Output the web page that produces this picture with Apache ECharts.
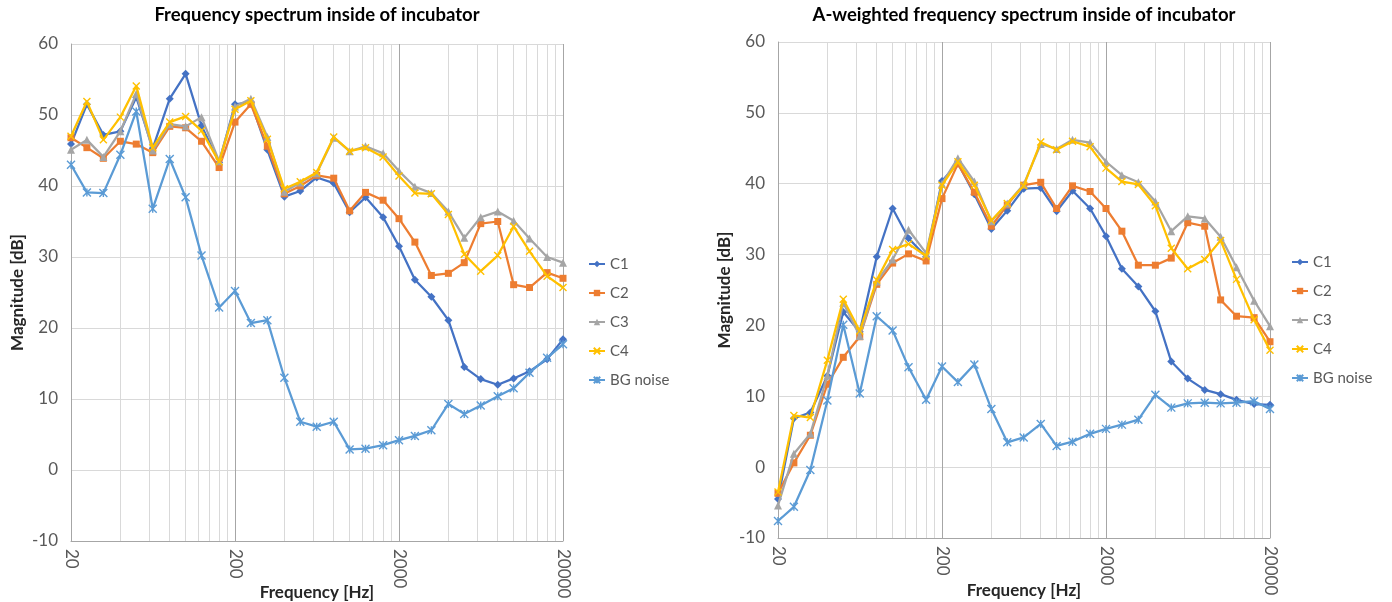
<!DOCTYPE html>
<html>
<head>
<meta charset="utf-8">
<script src="https://cdn.jsdelivr.net/npm/echarts@6/dist/echarts.min.js"></script>
<style>
  html, body { margin: 0; padding: 0; background: #ffffff; }
  #chart { width: 1392px; height: 602px; }
</style>
</head>
<body>
<div id="chart"></div>
<script>
// One-third-octave band centre frequencies [Hz]
const bandHz = [20, 25, 31.5, 40, 50, 63, 80, 100, 125, 160, 200, 250, 315, 400, 500, 630,
  800, 1000, 1250, 1600, 2000, 2500, 3150, 4000, 5000, 6300, 8000, 10000, 12500, 16000, 20000];

// Unweighted spectrum [dB]
const flatC1 = [45.9, 51.5, 47.2, 47.7, 52.5, 45.3, 52.3, 55.8, 48.5, 43.3, 51.5, 51.8, 45.1, 38.5, 39.3, 41.2,
  40.4, 36.3, 38.4, 35.6, 31.5, 26.8, 24.4, 21.1, 14.5, 12.8, 12.0, 12.9, 13.9, 15.6, 18.4];
const flatC2 = [46.8, 45.4, 43.9, 46.3, 45.9, 44.7, 48.4, 48.2, 46.3, 42.6, 49.0, 51.5, 45.6, 38.9, 40.0, 41.5,
  41.1, 36.5, 39.1, 38.0, 35.4, 32.1, 27.4, 27.7, 29.2, 34.7, 35.0, 26.1, 25.7, 27.8, 27.0];
const flatC3 = [45.1, 46.5, 44.1, 47.7, 53.0, 45.0, 48.7, 48.4, 49.7, 43.5, 51.2, 52.3, 46.9, 39.2, 40.5, 41.8,
  46.8, 44.9, 45.6, 44.6, 42.1, 39.9, 39.0, 36.4, 32.7, 35.6, 36.4, 35.1, 32.6, 30.0, 29.2];
const flatC4 = [47.0, 51.9, 46.5, 49.7, 54.1, 45.4, 49.0, 49.8, 47.8, 43.4, 50.8, 52.0, 46.6, 39.6, 40.6, 41.9,
  46.9, 44.9, 45.4, 44.1, 41.4, 39.0, 38.9, 36.0, 30.4, 28.0, 30.2, 34.3, 30.8, 27.3, 25.7];
const flatBG = [43.0, 39.1, 39.0, 44.4, 50.5, 36.8, 43.8, 38.4, 30.2, 22.9, 25.2, 20.7, 21.1, 13.0, 6.8, 6.1,
  6.8, 2.9, 3.0, 3.5, 4.2, 4.8, 5.6, 9.3, 7.9, 9.1, 10.4, 11.5, 13.7, 15.8, 17.7];

// A-weighted spectrum [dB]
const aC1 = [-4.5, 6.9, 7.7, 12.9, 21.9, 19.1, 29.7, 36.5, 32.3, 29.7, 40.4, 42.9, 38.5, 33.6, 36.2, 39.3,
  39.4, 36.1, 39.0, 36.5, 32.6, 28.0, 25.5, 22.0, 14.9, 12.5, 10.9, 10.3, 9.5, 8.9, 8.8];
const aC2 = [-3.7, 0.6, 4.5, 11.7, 15.5, 18.4, 25.8, 28.8, 30.1, 29.1, 37.9, 42.8, 38.8, 34.0, 37.0, 39.8,
  40.2, 36.5, 39.7, 38.9, 36.5, 33.3, 28.5, 28.5, 29.5, 34.5, 34.0, 23.6, 21.3, 21.1, 17.7];
const aC3 = [-5.4, 1.9, 4.7, 12.9, 23.2, 18.5, 26.2, 29.3, 33.5, 30.2, 40.0, 43.6, 40.3, 34.7, 37.2, 39.9,
  45.6, 44.9, 46.2, 45.8, 43.1, 41.2, 40.2, 37.5, 33.3, 35.4, 35.1, 32.5, 28.2, 23.5, 19.9];
const aC4 = [-3.5, 7.3, 7.0, 15.1, 23.7, 19.2, 26.4, 30.7, 31.5, 29.8, 39.8, 43.1, 39.8, 34.8, 37.2, 39.7,
  45.9, 44.8, 46.0, 45.2, 42.2, 40.3, 39.9, 36.9, 30.9, 28.0, 29.3, 32.0, 26.5, 20.8, 16.5];
const aBG = [-7.6, -5.6, -0.4, 9.4, 20.1, 10.4, 21.3, 19.3, 14.1, 9.5, 14.2, 12.0, 14.5, 8.2, 3.5, 4.2,
  6.1, 3.0, 3.6, 4.7, 5.4, 6.0, 6.7, 10.2, 8.4, 9.0, 9.1, 9.0, 9.1, 9.3, 8.2];

const seriesNames = ['C1', 'C2', 'C3', 'C4', 'BG noise'];
const titles = ['Frequency spectrum inside of incubator', 'A-weighted frequency spectrum inside of incubator'];

// Frequency axis: labelled decades and the minor grid in between
const xTickLabels = ['20', '200', '2000', '20000'];
const minorGridHz = [40, 60, 80, 100, 120, 140, 160, 180,
  400, 600, 800, 1000, 1200, 1400, 1600, 1800,
  4000, 6000, 8000, 10000, 12000, 14000, 16000, 18000];

const FONT = 'Lato, "Liberation Sans", sans-serif';
const TEXT = '#595959';
const GRID_LIGHT = '#D9D9D9';
const GRID_DARK = '#A6A6A6';

const styles = [
  { color: '#4472C4', symbol: 'diamond', size: 8, stroke: false },
  { color: '#ED7D31', symbol: 'rect', size: 7, stroke: false },
  { color: '#A5A5A5', symbol: 'triangle', size: 8, stroke: false },
  { color: '#FFC000', symbol: 'path://M0,0L10,10M10,0L0,10', size: 7, stroke: true },
  { color: '#5B9BD5', symbol: 'path://M0,0L10,10M10,0L0,10M5,0L5,10', size: 8, stroke: true }
];

const panels = [
  { grid: { left: 71, top: 44, width: 492, height: 497 }, data: [flatC1, flatC2, flatC3, flatC4, flatBG],
    title: titles[0], legendLeft: 583, legendTop: 250 },
  { grid: { left: 778, top: 42, width: 492, height: 496 }, data: [aC1, aC2, aC3, aC4, aBG],
    title: titles[1], legendLeft: 1286, legendTop: 248 }
];

const grids = [], xAxes = [], yAxes = [], series = [], legends = [], graphics = [];

panels.forEach((p, k) => {
  grids.push(Object.assign({ containLabel: false, outerBoundsMode: 'none' }, p.grid));

  // Log scale carrying the data (hidden)
  xAxes.push({
    type: 'log', logBase: 10, min: 20, max: 20000, gridIndex: k, show: false
  });
  // Decade axis for labels and major grid lines: 0..3 decades above 20 Hz
  xAxes.push({
    type: 'value', min: 0, max: 3, interval: 1, gridIndex: k, position: 'bottom',
    name: 'Frequency [Hz]', nameLocation: 'middle', nameGap: 43 + k, nameMoveOverlap: false,
    nameTextStyle: { fontFamily: FONT, fontWeight: 'bold', fontSize: 17, color: '#262626' },
    axisLine: { show: true, lineStyle: { color: GRID_DARK, width: 1 } },
    axisTick: { show: false },
    axisLabel: {
      show: true, rotate: -90, margin: 8, fontFamily: FONT, fontSize: 17, color: TEXT,
      showMinLabel: true, showMaxLabel: true,
      formatter: v => xTickLabels[Math.round(v)] || ''
    },
    splitLine: { show: true, lineStyle: { color: GRID_DARK, width: 1 } }
  });

  yAxes.push({
    type: 'value', min: -10, max: 60, interval: 10, gridIndex: k,
    name: 'Magnitude [dB]', nameLocation: 'middle', nameGap: 45, nameMoveOverlap: false,
    nameTextStyle: { fontFamily: FONT, fontWeight: 'bold', fontSize: 17, color: '#262626' },
    axisLine: { show: true, lineStyle: { color: GRID_DARK, width: 1 } },
    axisTick: { show: false },
    axisLabel: { fontFamily: FONT, fontSize: 17, color: TEXT, margin: 13, showMinLabel: true, showMaxLabel: true },
    splitLine: { show: true, lineStyle: { color: GRID_LIGHT, width: 1 } }
  });

  // Minor vertical grid lines on the log scale
  series.push({
    type: 'line', xAxisIndex: 2 * k, yAxisIndex: k, data: [], silent: true,
    z: 1,
    markLine: {
      silent: true, z: 1, symbol: ['none', 'none'], animation: false,
      label: { show: false },
      lineStyle: { color: GRID_LIGHT, width: 1, type: 'solid' },
      emphasis: { disabled: true },
      data: minorGridHz.map(f => ({ xAxis: f }))
    }
  });

  seriesNames.forEach((name, i) => {
    const st = styles[i];
    series.push({
      name: name, type: 'line', xAxisIndex: 2 * k, yAxisIndex: k,
      data: bandHz.map((f, j) => [f, p.data[i][j]]),
      symbol: st.symbol, symbolSize: st.size, showAllSymbol: true,
      lineStyle: { color: st.color, width: 2.25 },
      itemStyle: st.stroke
        ? { color: 'rgba(255,255,255,0)', borderColor: st.color, borderWidth: 1.4 }
        : { color: st.color, borderColor: st.color, borderWidth: 0 },
      emphasis: { disabled: true },
      z: 3 + i,
      animation: false
    });
  });

  legends.push({
    orient: 'vertical', left: p.legendLeft, top: p.legendTop,
    data: seriesNames, itemWidth: 16, itemHeight: 8, itemGap: 11,
    textStyle: { fontFamily: FONT, fontSize: 15, color: TEXT, lineHeight: 18 },
    selectedMode: false
  });

  graphics.push({
    type: 'text',
    x: p.grid.left + p.grid.width / 2, y: 15,
    style: {
      text: p.title, fill: '#000000', textAlign: 'center', textVerticalAlign: 'middle',
      font: 'bold 18.5px ' + FONT
    }
  });
});

const chart = echarts.init(document.getElementById('chart'), null, { renderer: 'canvas' });
chart.setOption({
  animation: false,
  backgroundColor: '#ffffff',
  grid: grids,
  xAxis: xAxes,
  yAxis: yAxes,
  legend: legends,
  series: series,
  graphic: graphics
});
</script>
</body>
</html>
